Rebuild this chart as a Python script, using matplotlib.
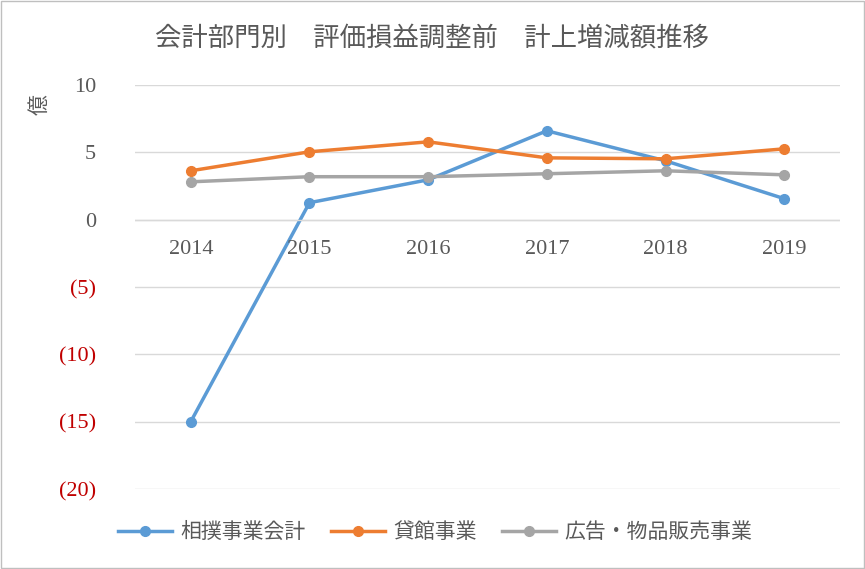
import matplotlib
matplotlib.use("Agg")
import matplotlib.pyplot as plt
from matplotlib.patches import Rectangle

years = ["2014", "2015", "2016", "2017", "2018", "2019"]
sumo = [-15.0, 1.26, 2.96, 6.6, 4.37, 1.56]
kashikan = [3.63, 5.04, 5.78, 4.59, 4.52, 5.26]
koukoku = [2.81, 3.19, 3.19, 3.41, 3.63, 3.33]
series_names = ["相撲事業会計", "貸館事業", "広告・物品販売事業"]
yticks = [10, 5, 0, -5, -10, -15, -20]

JP = "Noto Sans CJK JP"
SERIF = "Liberation Serif"

fig = plt.figure(figsize=(8.65, 5.69), dpi=100)
fig.patches.append(Rectangle((0.001, 0.001), 0.998, 0.998, transform=fig.transFigure,
                             fill=False, edgecolor="#bfbfbf", lw=1))
ax = fig.add_axes([135 / 865, 1 - 489 / 569, 705 / 865, 404 / 569])

x = range(len(years))
colors = ["#5b9bd5", "#ed7d31", "#a5a5a5"]
for vals, name, c in zip([sumo, kashikan, koukoku], series_names, colors):
    ax.plot(x, vals, color=c, lw=2.5, marker="o", ms=7, label=name)

ax.set_xlim(-0.47, len(years) - 0.53)
ax.set_ylim(-20, 10)
ax.set_yticks(yticks)
ax.yaxis.grid(True, color="#d9d9d9", lw=1)
ax.set_axisbelow(True)
labels = [str(v) if v >= 0 else f"({-v})" for v in yticks]
ax.set_yticklabels(labels, fontfamily=SERIF, fontsize=16)
for lab, v in zip(ax.get_yticklabels(), yticks):
    lab.set_color("#c00000" if v < 0 else "#595959")
ax.tick_params(axis="y", length=0, pad=28)
ax.set_xticks([])
for i, y in enumerate(years):
    ax.text(i, -1.5, y, ha="center", va="top", fontfamily=SERIF, fontsize=16, color="#595959")
ax.axhline(0, color="#d9d9d9", lw=1)
for s in ax.spines.values():
    s.set_visible(False)

fig.text(40 / 865, 1 - 105 / 569, "億", rotation=90, ha="center", va="center",
         fontfamily=JP, fontsize=15, color="#595959")
fig.text(432 / 865, 1 - 38 / 569, "会計部門別　評価損益調整前　計上増減額推移", ha="center", va="center",
         fontfamily=JP, fontsize=19, color="#595959")
ax.legend(loc="center", bbox_to_anchor=((435 - 135) / 705, (532 - 489) / -404), ncol=3, frameon=False,
          prop={"family": JP, "size": 15}, labelcolor="#595959", handlelength=2.6,
          handletextpad=0.4, columnspacing=1.2)

fig.savefig("out.png", dpi=100)
